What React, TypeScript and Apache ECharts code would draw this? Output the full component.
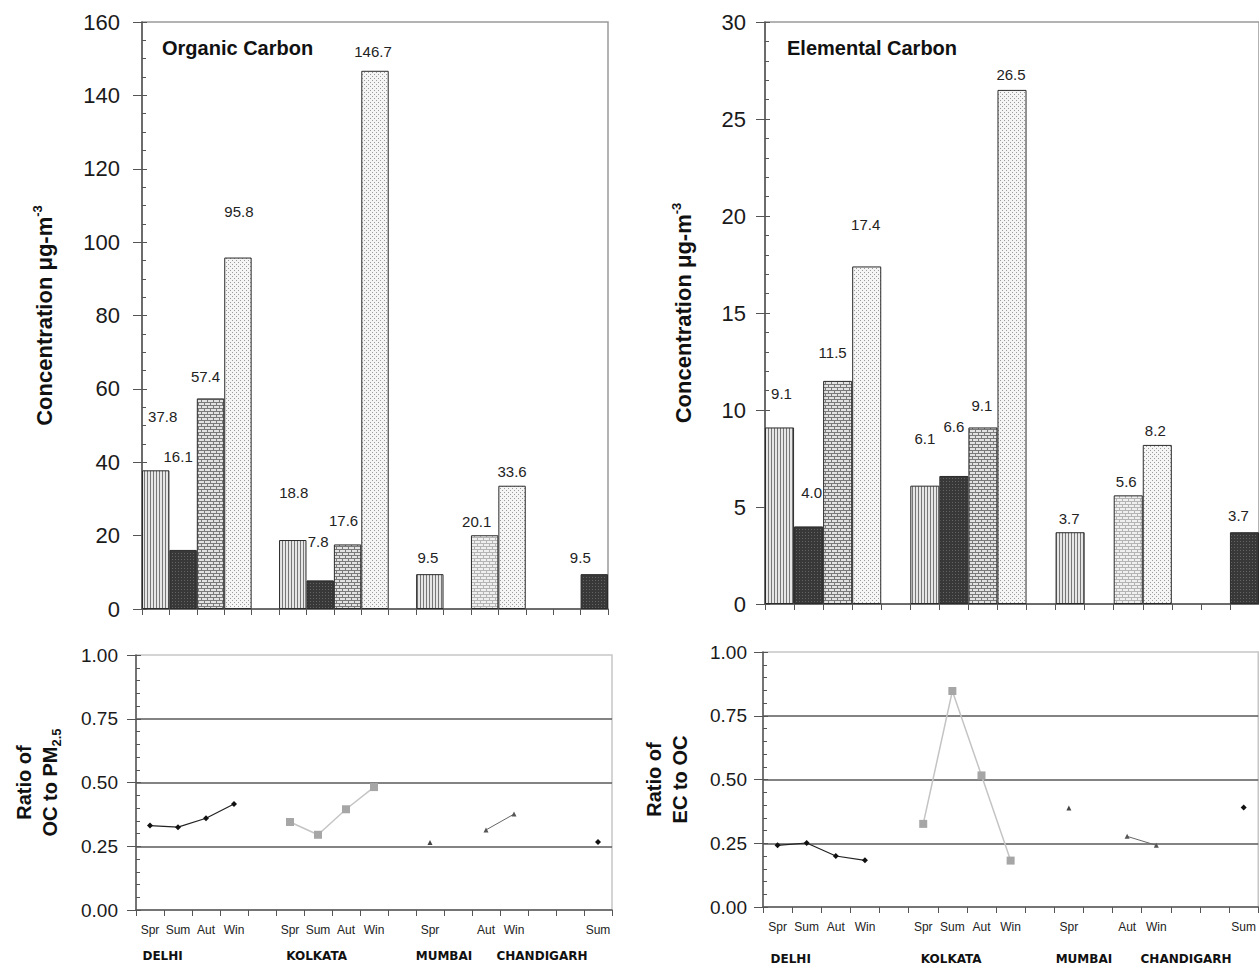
import React, { useEffect, useRef } from "react";
import * as echarts from "echarts";

const FONT = "'Liberation Sans', Arial, Helvetica, sans-serif";
const WIDE = "'DejaVu Sans', 'Liberation Sans', Arial, sans-serif";

// ---------- data ----------
// 17 category slots along each x axis (gaps are empty slots)
const slotLabels = ["Spr", "Sum", "Aut", "Win", "", "Spr", "Sum", "Aut", "Win", "", "Spr", "", "Aut", "Win", "", "", "Sum"];
const cityNames = ["DELHI", "KOLKATA", "MUMBAI", "CHANDIGARH"];

const ocValues = [37.8, 16.1, 57.4, 95.8, null, 18.8, 7.8, 17.6, 146.7, null, 9.5, null, 20.1, 33.6, null, null, 9.5];
const ecValues = [9.1, 4.0, 11.5, 17.4, null, 6.1, 6.6, 9.1, 26.5, null, 3.7, null, 5.6, 8.2, null, null, 3.7];

const delhiSlots = [0, 1, 2, 3];
const kolkataSlots = [5, 6, 7, 8];
const mumbaiSlots = [10];
const chandigarhSlots = [12, 13];
const extraSlots = [16];

const ocRatioDelhi = [0.331, 0.325, 0.36, 0.416];
const ocRatioKolkata = [0.345, 0.295, 0.395, 0.482];
const ocRatioMumbai = [0.265];
const ocRatioChandigarh = [0.314, 0.376];
const ocRatioExtra = [0.267];

const ecRatioDelhi = [0.242, 0.251, 0.2, 0.183];
const ecRatioKolkata = [0.326, 0.847, 0.516, 0.182];
const ecRatioMumbai = [0.388];
const ecRatioChandigarh = [0.277, 0.242];
const ecRatioExtra = [0.39];

// ---------- styling (not data) ----------
const barPatternKeys = ["spr", "sum", "aut", "win", "", "spr", "sum", "aut", "win", "", "spr", "", "autLight", "win", "", "", "sum"];
// label centre relative to bar-top centre [dx, dy]
const ocLabelDelta: any[] = [[7, -54], [-5, -93], [-5, -22], [1, -46], null, [1, -48], [-2, -39], [-4, -24], [-2, -19], null, [-2, -17], null, [-8, -14], [0, -14], null, null, [-14, -17]];
const ecLabelDelta: any[] = [[2, -34], [3, -34], [-5, -28], [-1, -42], null, [0, -47], [0, -49], [-1, -22], [-1, -15], null, [-1, -14], null, [-2, -14], [-2, -14], null, null, [-6, -17]];
const cityCenterSlots = [0.95, 6.45, 11.0, 14.5];

const slotKeys = slotLabels.map((_, i) => "s" + i);

function makeTile(w: number, h: number, bg: string, marks: [number, number, string][]) {
  const c = document.createElement("canvas");
  c.width = w;
  c.height = h;
  const ctx = c.getContext("2d")!;
  ctx.fillStyle = bg;
  ctx.fillRect(0, 0, w, h);
  for (const [x, y, col] of marks) {
    ctx.fillStyle = col;
    ctx.fillRect(x, y, 1, 1);
  }
  return { image: c, repeat: "repeat", imageWidth: w, imageHeight: h };
}

function brick(dark: string, light: string) {
  const m: [number, number, string][] = [];
  for (let x = 0; x < 6; x++) {
    m.push([x, 0, dark]);
    m.push([x, 3, dark]);
  }
  m.push([0, 1, dark], [0, 2, dark], [3, 4, dark], [3, 5, dark]);
  return makeTile(6, 6, light, m);
}

function buildPatterns() {
  return {
    spr: makeTile(3, 1, "#e6e6e6", [[0, 0, "#777777"]]),
    sum: makeTile(3, 3, "#383838", [[1, 1, "#646464"]]),
    aut: brick("#7a7a7a", "#e2e2e2"),
    autLight: brick("#b4b4b4", "#efefef"),
    win: makeTile(4, 4, "#f5f5f5", [[0, 0, "#9c9c9c"], [2, 2, "#9c9c9c"]]),
  } as any;
}

export default function App() {
  const ref = useRef<HTMLDivElement>(null);

  useEffect(() => {
    if (!ref.current) return;
    const chart = echarts.init(ref.current, undefined, { renderer: "svg" });
    const patterns = buildPatterns();

    const axisColor = "#555";

    const barX = (gridIndex: number) => ({
      type: "category",
      gridIndex,
      data: slotKeys,
      boundaryGap: true,
      axisLine: { lineStyle: { color: axisColor, width: 1.5 } },
      axisTick: { show: true, interval: 0, length: 6, lineStyle: { color: axisColor } },
      axisLabel: { show: false },
      splitLine: { show: false },
    });

    const ratioX = (gridIndex: number) => ({
      type: "category",
      gridIndex,
      data: slotKeys,
      boundaryGap: true,
      axisLine: { lineStyle: { color: axisColor, width: 1.5 } },
      axisTick: { show: true, interval: 0, length: 6, lineStyle: { color: axisColor } },
      axisLabel: {
        show: true,
        interval: 0,
        formatter: (_v: any, i: number) => slotLabels[i],
        fontSize: 12,
        fontFamily: FONT,
        color: "#222",
        margin: 14,
      },
      splitLine: { show: false },
    });

    const nameRich = {
      t: { fontSize: 22, fontWeight: "bold", fontFamily: FONT, color: "#111", lineHeight: 26 },
      r: { fontSize: 20, fontWeight: "bold", fontFamily: FONT, color: "#111", lineHeight: 26 },
      s: { fontSize: 13, fontWeight: "bold", fontFamily: FONT, color: "#111", lineHeight: 26, verticalAlign: "top" },
      b: { fontSize: 13, fontWeight: "bold", fontFamily: FONT, color: "#111", lineHeight: 26, verticalAlign: "bottom" },
    };

    const mainY = (gridIndex: number, min: number, max: number, interval: number, opts: any) => ({
      type: "value",
      gridIndex,
      min,
      max,
      interval,
      position: "left",
      offset: 0,
      axisLine: { show: true, lineStyle: { color: axisColor, width: 1.5 } },
      axisTick: { show: true, length: 9, lineStyle: { color: axisColor } },
      axisLabel: {
        fontSize: opts.fontSize,
        fontFamily: FONT,
        color: "#1a1a1a",
        margin: opts.margin,
        formatter: opts.formatter,
      },
      splitLine: opts.split
        ? { show: true, showMinLine: false, showMaxLine: false, lineStyle: { color: "#5a5a5a", width: 1.5 } }
        : { show: false },
      name: opts.name,
      nameLocation: "middle",
      nameRotate: 90,
      nameGap: opts.nameGap,
      nameTextStyle: { rich: nameRich, align: "center" },
    });

    const innerY = (gridIndex: number, min: number, max: number, interval: number, split: number) => ({
      type: "value",
      gridIndex,
      min,
      max,
      interval,
      position: "left",
      offset: 0,
      axisLine: { show: false },
      axisTick: { show: true, inside: true, length: 5, lineStyle: { color: axisColor } },
      minorTick: { show: true, splitNumber: split, length: 4, lineStyle: { color: axisColor } },
      axisLabel: { show: false },
      splitLine: { show: false },
    });

    const barSeries = (values: (number | null)[], deltas: any[], xi: number, yi: number) => ({
      type: "bar",
      xAxisIndex: xi,
      yAxisIndex: yi,
      barCategoryGap: "0%",
      data: values.map((v, i) =>
        v == null
          ? "-"
          : {
              value: v,
              itemStyle: { color: patterns[barPatternKeys[i]], borderColor: "#2a2a2a", borderWidth: 1 },
              label: { offset: [deltas[i][0], deltas[i][1] + 8] },
            }
      ),
      label: {
        show: true,
        position: "top",
        distance: 0,
        fontSize: 15,
        lineHeight: 16,
        fontFamily: FONT,
        color: "#222",
        formatter: (p: any) => Number(p.value).toFixed(1),
      },
    });

    const ratioLine = (slots: number[], vals: number[], xi: number, yi: number, st: any) => ({
      type: "line",
      xAxisIndex: xi,
      yAxisIndex: yi,
      data: slots.map((s, k) => [s, vals[k]]),
      symbol: st.symbol,
      symbolSize: st.size,
      itemStyle: { color: st.color },
      lineStyle: { color: st.line, width: st.width },
      z: 5,
    });

    const delhiStyle = { symbol: "diamond", size: 6, color: "#111", line: "#222", width: 1.2 };
    const kolkataStyle = { symbol: "rect", size: 8, color: "#a6a6a6", line: "#c4c4c4", width: 1.5 };
    const mumbaiStyle = { symbol: "triangle", size: 5, color: "#444", line: "#444", width: 1 };
    const chandStyle = { symbol: "triangle", size: 5, color: "#555", line: "#666", width: 1 };
    const extraStyle = { symbol: "diamond", size: 6, color: "#111", line: "#111", width: 1 };

    const grids = [
      { left: 142, top: 22, width: 466, height: 587 },
      { left: 136, top: 655, width: 476, height: 255 },
      { left: 765, top: 22, width: 496, height: 582 },
      { left: 763, top: 652, width: 496, height: 255 },
    ];

    const cityText = (gi: number, y: number) => {
      const g = grids[gi];
      const sw = g.width / slotLabels.length;
      return cityNames.map((n, k) => ({
        type: "text",
        x: g.left + cityCenterSlots[k] * sw,
        y,
        style: {
          text: n,
          align: "center",
          verticalAlign: "middle",
          textAlign: "center",
          textVerticalAlign: "middle",
          fontSize: 12,
          fontWeight: "bold",
          fontFamily: WIDE,
          fill: "#111",
        },
      }));
    };

    const option: any = {
      animation: false,
      backgroundColor: "#ffffff",
      title: [
        {
          text: "Organic Carbon",
          left: 162,
          top: 38,
          padding: 0,
          textStyle: { fontFamily: FONT, fontWeight: "bold", fontSize: 20, color: "#111" },
        },
        {
          text: "Elemental Carbon",
          left: 787,
          top: 38,
          padding: 0,
          textStyle: { fontFamily: FONT, fontWeight: "bold", fontSize: 20, color: "#111" },
        },
      ],
      grid: grids.map((g, i) => ({
        ...g,
        show: true,
        borderColor: i % 2 === 0 ? "#9a9a9a" : "#c6c6c6",
        borderWidth: 1.5,
        backgroundColor: "transparent",
        containLabel: false,
      })),
      xAxis: [barX(0), ratioX(1), barX(2), ratioX(3)],
      yAxis: [
        mainY(0, 0, 160, 20, {
          fontSize: 22,
          margin: 22,
          name: "{t|Concentration μg-m}{s|-3}",
          nameGap: 85,
        }),
        innerY(0, 0, 160, 20, 4),
        mainY(1, 0, 1, 0.25, {
          fontSize: 19,
          margin: 18,
          split: true,
          formatter: (v: number) => v.toFixed(2),
          name: "{r|Ratio of}\n{r|OC to PM}{b|2.5}",
          nameGap: 73,
        }),
        innerY(1, 0, 1, 0.25, 5),
        mainY(2, 0, 30, 5, {
          fontSize: 22,
          margin: 19,
          name: "{t|Concentration μg-m}{s|-3}",
          nameGap: 69,
        }),
        innerY(2, 0, 30, 5, 5),
        mainY(3, 0, 1, 0.25, {
          fontSize: 19,
          margin: 16,
          split: true,
          formatter: (v: number) => v.toFixed(2),
          name: "{r|Ratio of}\n{r|EC to OC}",
          nameGap: 70,
        }),
        innerY(3, 0, 1, 0.25, 5),
      ],
      series: [
        barSeries(ocValues, ocLabelDelta, 0, 0),
        barSeries(ecValues, ecLabelDelta, 2, 4),
        ratioLine(delhiSlots, ocRatioDelhi, 1, 2, delhiStyle),
        ratioLine(kolkataSlots, ocRatioKolkata, 1, 2, kolkataStyle),
        ratioLine(mumbaiSlots, ocRatioMumbai, 1, 2, mumbaiStyle),
        ratioLine(chandigarhSlots, ocRatioChandigarh, 1, 2, chandStyle),
        ratioLine(extraSlots, ocRatioExtra, 1, 2, extraStyle),
        ratioLine(delhiSlots, ecRatioDelhi, 3, 6, delhiStyle),
        ratioLine(kolkataSlots, ecRatioKolkata, 3, 6, kolkataStyle),
        ratioLine(mumbaiSlots, ecRatioMumbai, 3, 6, mumbaiStyle),
        ratioLine(chandigarhSlots, ecRatioChandigarh, 3, 6, chandStyle),
        ratioLine(extraSlots, ecRatioExtra, 3, 6, extraStyle),
      ],
      graphic: [...cityText(1, 956), ...cityText(3, 959)],
    };

    chart.setOption(option);
    return () => chart.dispose();
  }, []);

  return (
    <div
      ref={ref}
      style={{ position: "absolute", left: 0, top: 0, width: 1259, height: 968, background: "#fff" }}
    />
  );
}
